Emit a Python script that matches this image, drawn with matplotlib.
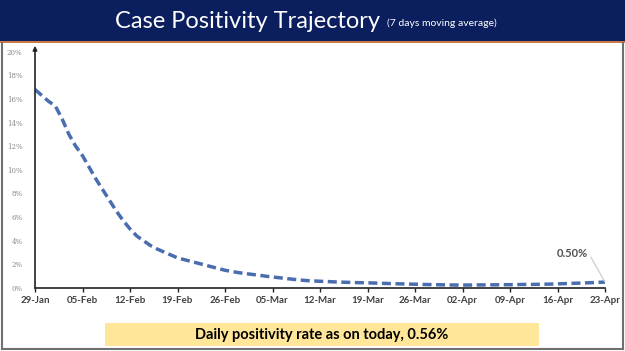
import matplotlib
matplotlib.use("Agg")
import matplotlib.pyplot as plt
import numpy as np
from matplotlib.patches import Rectangle
from matplotlib.lines import Line2D

# ---- data ----
tick_labels = ["29-Jan", "05-Feb", "12-Feb", "19-Feb", "26-Feb", "05-Mar", "12-Mar",
               "19-Mar", "26-Mar", "02-Apr", "09-Apr", "16-Apr", "23-Apr"]
positivity = [16.8, 16.3, 15.8, 15.4, 14.3, 13.0, 12.0, 11.2, 10.2, 9.2,
              8.3, 7.4, 6.5, 5.7, 5.0, 4.4, 4.0, 3.6, 3.3, 3.05,
              2.8, 2.55, 2.4, 2.25, 2.1, 1.95, 1.8, 1.65, 1.5, 1.4,
              1.3, 1.22, 1.15, 1.08, 1.0, 0.93, 0.87, 0.8, 0.74, 0.68,
              0.63, 0.6, 0.57, 0.55, 0.52, 0.5, 0.48, 0.46, 0.45, 0.44,
              0.42, 0.4, 0.38, 0.36, 0.35, 0.33, 0.32, 0.3, 0.29, 0.28,
              0.27, 0.26, 0.25, 0.25, 0.25, 0.26, 0.26, 0.27, 0.27, 0.28,
              0.28, 0.29, 0.3, 0.3, 0.31, 0.32, 0.33, 0.35, 0.37, 0.39,
              0.41, 0.43, 0.45, 0.48, 0.50]
yticks = [0, 2, 4, 6, 8, 10, 12, 14, 16, 18, 20]
title_main = "Case Positivity Trajectory"
title_sub = "(7 days moving average)"
last_label = "0.50%"
footer = "Daily positivity rate as on today, 0.56%"

W, H = 625, 351
fig = plt.figure(figsize=(W / 100, H / 100), dpi=100)
fig.patch.set_facecolor("white")

def fx(px):
    return px / W

def fy(py):
    return 1 - py / H

# title bar
fig.patches.append(Rectangle((0, fy(41)), 1, 41 / H, transform=fig.transFigure,
                             facecolor="#0b1f5e", edgecolor="none", zorder=0))
fig.patches.append(Rectangle((0, fy(43)), 1, 2 / H, transform=fig.transFigure,
                             facecolor="#c97a45", edgecolor="none", zorder=0))
fig.text(fx(380), fy(21), title_main, color="white", fontsize=17, family="Lato",
         ha="right", va="center")
fig.text(fx(387), fy(23), title_sub, color="white", fontsize=7.5, family="Lato",
         ha="left", va="center")

# border
fig.add_artist(Line2D([fx(2), fx(2)], [fy(43), fy(349)], transform=fig.transFigure,
                      color="#707070", lw=1.5))
fig.add_artist(Line2D([fx(623), fx(623)], [fy(43), fy(349)], transform=fig.transFigure,
                      color="#707070", lw=1.5))
fig.add_artist(Line2D([fx(2), fx(623)], [fy(349), fy(349)], transform=fig.transFigure,
                      color="#707070", lw=1.5))

# axes
ax = fig.add_axes([fx(35), fy(288), fx(605) - fx(35), (288 - 51.7) / H])
x = np.arange(len(positivity))
ax.plot(x, positivity, color="#4a6db0", lw=2.5, linestyle=(0, (2.6, 1.3)))
ax.set_xlim(0, len(positivity) - 1)
ax.set_ylim(0, 20)
ax.set_xticks(np.arange(0, len(positivity), 7))
ax.set_xticklabels(tick_labels, fontsize=7, fontweight="bold", color="#404040", family="Lato")
ax.set_yticks(yticks)
ax.set_yticklabels([f"{v}%" for v in yticks], fontsize=5, color="#8a8a8a", family="DejaVu Serif")
ax.tick_params(axis="y", length=0, pad=9)
ax.tick_params(axis="x", length=3, width=1, color="#222222", pad=3)
for s in ["top", "right", "left"]:
    ax.spines[s].set_visible(False)
ax.spines["bottom"].set_color("#222222")
ax.spines["bottom"].set_linewidth(1.2)
ax.annotate("", xy=(0, 20.5), xytext=(0, 0), xycoords="data",
            arrowprops=dict(arrowstyle="-|>", color="#222222", lw=1.2,
                            mutation_scale=6, shrinkA=0, shrinkB=0),
            annotation_clip=False)
ax.annotate(last_label, xy=(x[-1], positivity[-1]), xytext=(x[-1] - 4.8, 2.95),
            fontsize=8, fontweight="bold", color="#505050", family="Lato",
            ha="center", va="center",
            arrowprops=dict(arrowstyle="-", color="#c8c8c8", lw=0.8,
                            shrinkA=0, shrinkB=0,
                            relpos=(1.0, 0.6)),
            annotation_clip=False)

# footer box
fig.patches.append(Rectangle((fx(105), fy(346)), fx(539) - fx(105), 23 / H,
                             transform=fig.transFigure, facecolor="#ffe699",
                             edgecolor="none", zorder=0))
fig.text(fx(322), fy(334.5), footer, fontsize=10.5, fontweight="bold", family="Lato",
         color="black", ha="center", va="center")

fig.savefig("out.png", dpi=100)
